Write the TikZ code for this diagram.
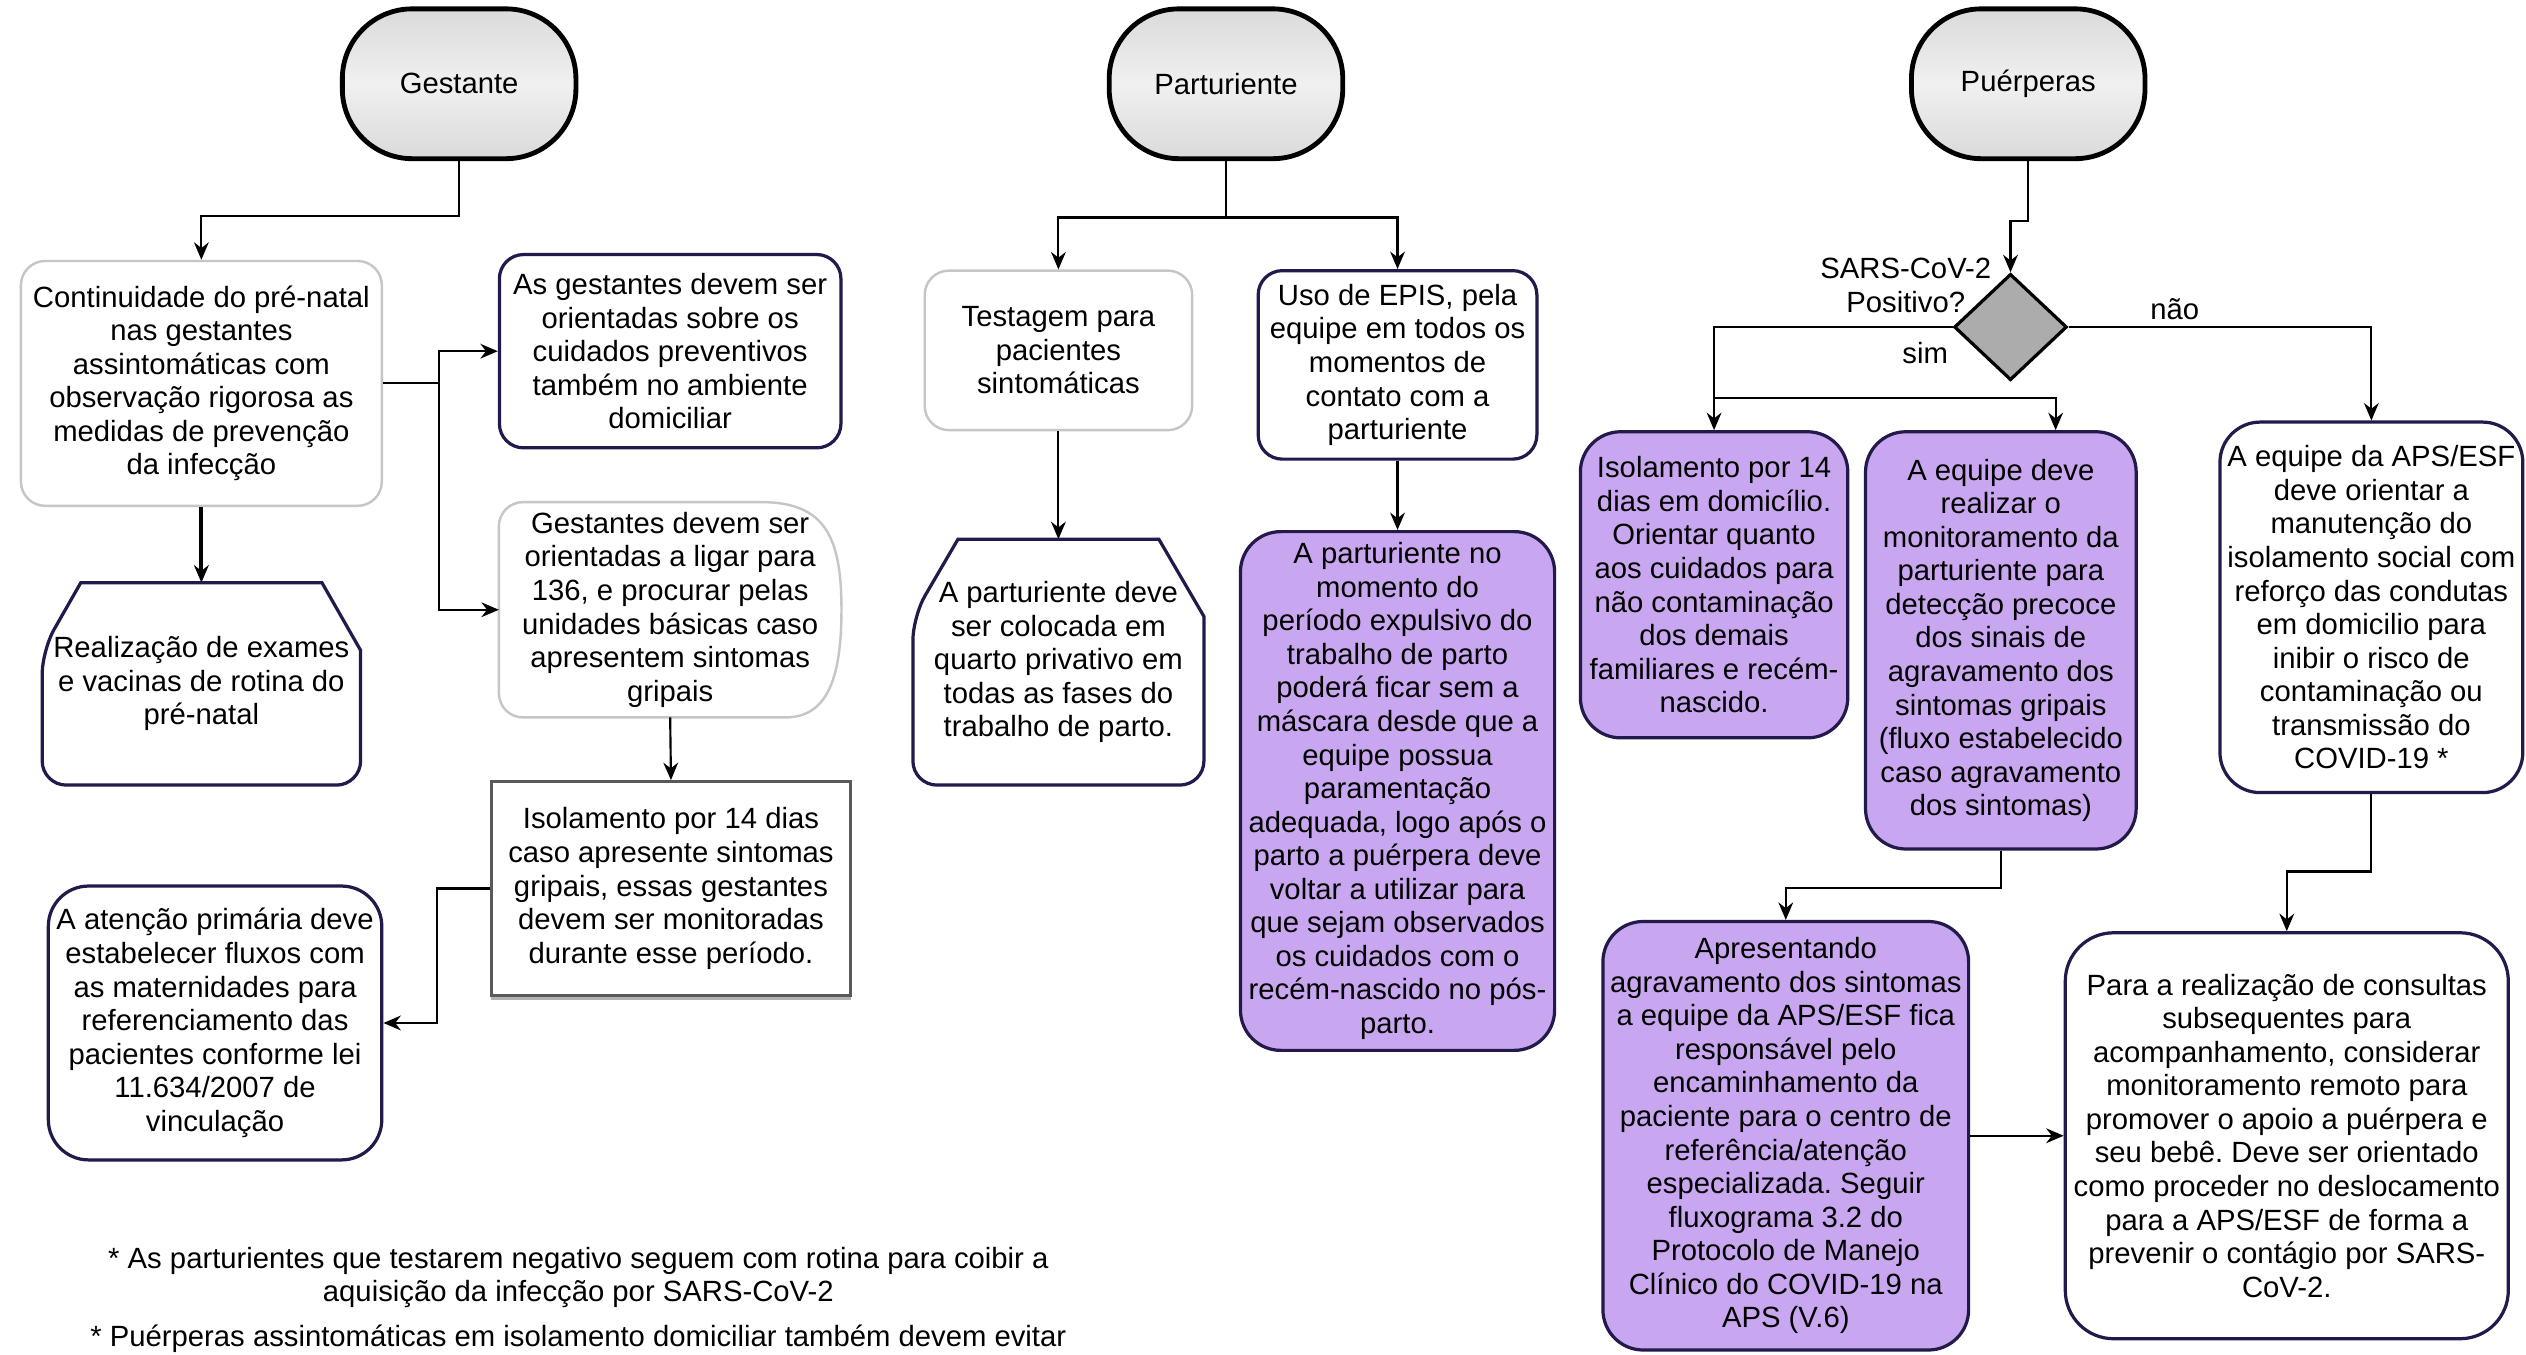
\documentclass[tikz,border=0pt]{standalone}
\usepackage{fontspec}
\setmainfont{Liberation Sans}
\usepackage{xcolor}
\usepackage{tikz}
\usetikzlibrary{shapes.geometric, arrows.meta, positioning, shadows, calc}
\frenchspacing

\definecolor{navy}{HTML}{221A4A}
\definecolor{softgray}{HTML}{C6C6C6}
\definecolor{lavender}{HTML}{C9A6F0}
\definecolor{startgray}{HTML}{DADADA}

\tikzstyle{arrow} = [line width=0.8pt,->,>={Stealth[length=6.5pt,width=5.5pt]}]
\tikzstyle{startbox} = [rectangle, rounded corners=26pt, minimum width=87pt, minimum height=55.8pt, text centered, draw=black, line width=1.8pt, top color=startgray, bottom color=startgray, middle color=startgray!40]
\tikzstyle{softbox} = [rectangle, rounded corners=9pt, align=center, draw=softgray, line width=0.9pt, fill=white, inner sep=2pt]
\tikzstyle{navybox} = [rectangle, rounded corners=9pt, align=center, draw=navy, line width=1.2pt, fill=white, inner sep=2pt]
\tikzstyle{purplebox} = [navybox, rounded corners=15pt, fill=lavender]
\tikzstyle{plainbox} = [rectangle, align=center, draw=black!65, line width=0.9pt, fill=white, inner sep=2pt, drop shadow={shadow xshift=0pt, shadow yshift=-1.5pt, opacity=0.6}]
\tikzstyle{shapetext} = [rectangle, align=center, inner sep=2pt]
\tikzstyle{decision} = [diamond, draw=black, line width=1.2pt, fill=gray!65, minimum width=42pt, minimum height=39.6pt, inner sep=0pt]
\tikzstyle{notetext} = [align=center, inner sep=0pt]

\begin{document}
\begin{tikzpicture}[x=0.6pt, y=-0.6pt, font=\fontsize{10.9}{12.5}\selectfont]
    \fill[white] (0,0) rectangle (1568,841);
    \useasboundingbox (0,0) rectangle (1568,841);

    % Starts
    \node[startbox] (gest) at (285,52) {Gestante};
    \node[startbox] (part) at (761,52) {Parturiente};
    \node[startbox] (puer) at (1259,52) {Puérperas};

    % Gestante
    \node[softbox, minimum width=134.4pt, minimum height=91.2pt] (cont) at (125,238) {Continuidade do pré-natal\\
        nas gestantes\\
        assintomáticas com\\
        observação rigorosa as\\
        medidas de prevenção\\
        da infecção};
    \node[navybox, minimum width=127.2pt, minimum height=72pt] (asg) at (416,218) {As gestantes devem ser\\
        orientadas sobre os\\
        cuidados preventivos\\
        também no ambiente\\
        domiciliar};
    \node[shapetext, minimum width=127.2pt, minimum height=79.8pt] (gdev) at (416,378.5) {Gestantes devem ser\\
        orientadas a ligar para\\
        136, e procurar pelas\\
        unidades básicas caso\\
        apresentem sintomas\\
        gripais};
    \draw[softgray, line width=0.9pt, rounded corners=9pt] ($(gdev.north east)+(-50,0)$) -- (gdev.north west) -- (gdev.south west) -- ($(gdev.south east)+(-50,0)$) [sharp corners] .. controls ($(gdev.south east)+(-10,0)$) and ($(gdev.east)+(0,45)$) .. (gdev.east) .. controls ($(gdev.east)+(0,-45)$) and ($(gdev.north east)+(-10,0)$) .. cycle;
    \node[plainbox, minimum width=133.8pt, minimum height=79.8pt] (isoG) at (416.5,551.5) {Isolamento por 14 dias\\
        caso apresente sintomas\\
        gripais, essas gestantes\\
        devem ser monitoradas\\
        durante esse período.};
    \node[navybox, rounded corners=15pt, minimum width=124.2pt, minimum height=102pt] (aten) at (133.5,635) {A atenção primária deve\\
        estabelecer fluxos com\\
        as maternidades para\\
        referenciamento das\\
        pacientes conforme lei\\
        11.634/2007 de\\
        vinculação};
    \node[shapetext, minimum width=118.2pt, minimum height=75pt] (real) at (125,424.5) {Realização de exames\\
        e vacinas de rotina do\\
        pré-natal};
    \draw[navy, line width=1.2pt] ($(real.north west)+(24,0)$) -- ($(real.north east)+(-24,0)$) -- ($(real.north east)+(0,42)$) [rounded corners=9pt] -- (real.south east) -- (real.south west) -- ($(real.north west)+(0,42)$) [sharp corners] -- cycle;

    % Parturiente
    \node[softbox, minimum width=99.6pt, minimum height=59.4pt] (test) at (657,217.5) {Testagem para\\
        pacientes\\
        sintomáticas};
    \node[shapetext, minimum width=108pt, minimum height=91.2pt] (pdeve) at (657,411) {A parturiente deve\\
        ser colocada em\\
        quarto privativo em\\
        todas as fases do\\
        trabalho de parto.};
    \draw[navy, line width=1.2pt] ($(pdeve.north west)+(28,0)$) -- ($(pdeve.north east)+(-28,0)$) -- ($(pdeve.north east)+(0,48)$) [rounded corners=9pt] -- (pdeve.south east) -- (pdeve.south west) -- ($(pdeve.north west)+(0,48)$) [sharp corners] -- cycle;
    \node[navybox, minimum width=103.8pt, minimum height=70.2pt] (epis) at (867.5,226.5) {Uso de EPIS, pela\\
        equipe em todos os\\
        momentos de\\
        contato com a\\
        parturiente};
    \node[purplebox, minimum width=117pt, minimum height=193.2pt] (pno) at (867.5,491) {A parturiente no\\
        momento do\\
        período expulsivo do\\
        trabalho de parto\\
        poderá ficar sem a\\
        máscara desde que a\\
        equipe possua\\
        paramentação\\
        adequada, logo após o\\
        parto a puérpera deve\\
        voltar a utilizar para\\
        que sejam observados\\
        os cuidados com o\\
        recém-nascido no pós-\\
        parto.};

    % Puerperas
    \node[decision] (dia) at (1248,203) {};
    \node[notetext] (diaq) at (1183,177) {SARS-CoV-2\\Positivo?};
    \node[notetext] (sim) at (1195,219) {sim};
    \node[notetext] (nao) at (1350,192) {não};
    \node[purplebox, minimum width=99.6pt, minimum height=114pt] (isoP) at (1064,363) {Isolamento por 14\\
        dias em domicílio.\\
        Orientar quanto\\
        aos cuidados para\\
        não contaminação\\
        dos demais\\
        familiares e recém-\\
        nascido.};
    \node[purplebox, minimum width=100.8pt, minimum height=155.4pt] (aeq) at (1242,397.5) {A equipe deve\\
        realizar o\\
        monitoramento da\\
        parturiente para\\
        detecção precoce\\
        dos sinais de\\
        agravamento dos\\
        sintomas gripais\\
        (fluxo estabelecido\\
        caso agravamento\\
        dos sintomas)};
    \node[navybox, rounded corners=15pt, minimum width=112.8pt, minimum height=138pt] (aps) at (1472,377) {A equipe da APS/ESF\\
        deve orientar a\\
        manutenção do\\
        isolamento social com\\
        reforço das condutas\\
        em domicilio para\\
        inibir o risco de\\
        contaminação ou\\
        transmissão do\\
        COVID-19 *};
    \node[purplebox, minimum width=136.2pt, minimum height=159.6pt] (apres) at (1108.5,705) {Apresentando\\
        agravamento dos sintomas\\
        a equipe da APS/ESF fica\\
        responsável pelo\\
        encaminhamento da\\
        paciente para o centro de\\
        referência/atenção\\
        especializada. Seguir\\
        fluxograma 3.2 do\\
        Protocolo de Manejo\\
        Clínico do COVID-19 na\\
        APS (V.6)};
    \node[navybox, rounded corners=18pt, minimum width=165pt, minimum height=151.2pt] (para) at (1419.5,705) {Para a realização de consultas\\
        subsequentes para\\
        acompanhamento, considerar\\
        monitoramento remoto para\\
        promover o apoio a puérpera e\\
        seu bebê. Deve ser orientado\\
        como proceder no deslocamento\\
        para a APS/ESF de forma a\\
        prevenir o contágio por SARS-\\
        CoV-2.};

    % Notes
    \node[notetext] (note1) at (359,793) {* As parturientes que testarem negativo seguem com rotina para coibir a\\
        aquisição da infecção por SARS-CoV-2};
    \node[notetext, below=6pt of note1] (note2) {* Puérperas assintomáticas em isolamento domiciliar também devem evitar};

    % Connections
    \draw[arrow] (gest.south) -- ++(0,34) -| (cont.north);
    \draw[arrow] (cont.east) -- ++(35,0) |- (asg.west);
    \draw[arrow] (cont.east) -- ++(35,0) |- (gdev.west);
    \draw[arrow, line width=1.5pt] (cont.south) -- (real.north);
    \draw[arrow] (gdev.south) -- (isoG.north);
    \draw[arrow] (isoG.west) -- ++(-33,0) |- (aten.east);

    \draw[arrow] (part.south) -- ++(0,35) -| (test.north);
    \draw[arrow] (part.south) -- ++(0,35) -| (epis.north);
    \draw[arrow] (test.south) -- (pdeve.north);
    \draw[arrow] (epis.south) -- (pno.north);

    \draw[arrow] (puer.south) -- ++(0,37) -| (dia.north);
    \draw[arrow] (dia.west) -| (isoP.north);
    \coordinate (simsplit) at ($(isoP.north)+(0,-20)$);
    \draw[arrow] (simsplit) -| ($(aeq.north)+(34,0)$);
    \draw[arrow] (dia.east) -| (aps.north);
    \draw[arrow] (aeq.south) -- ++(0,23) -| (apres.north);
    \draw[arrow] (aps.south) -- ++(0,48) -| (para.north);
    \draw[arrow] (apres.east) -- (para.west);
\end{tikzpicture}
\end{document}
